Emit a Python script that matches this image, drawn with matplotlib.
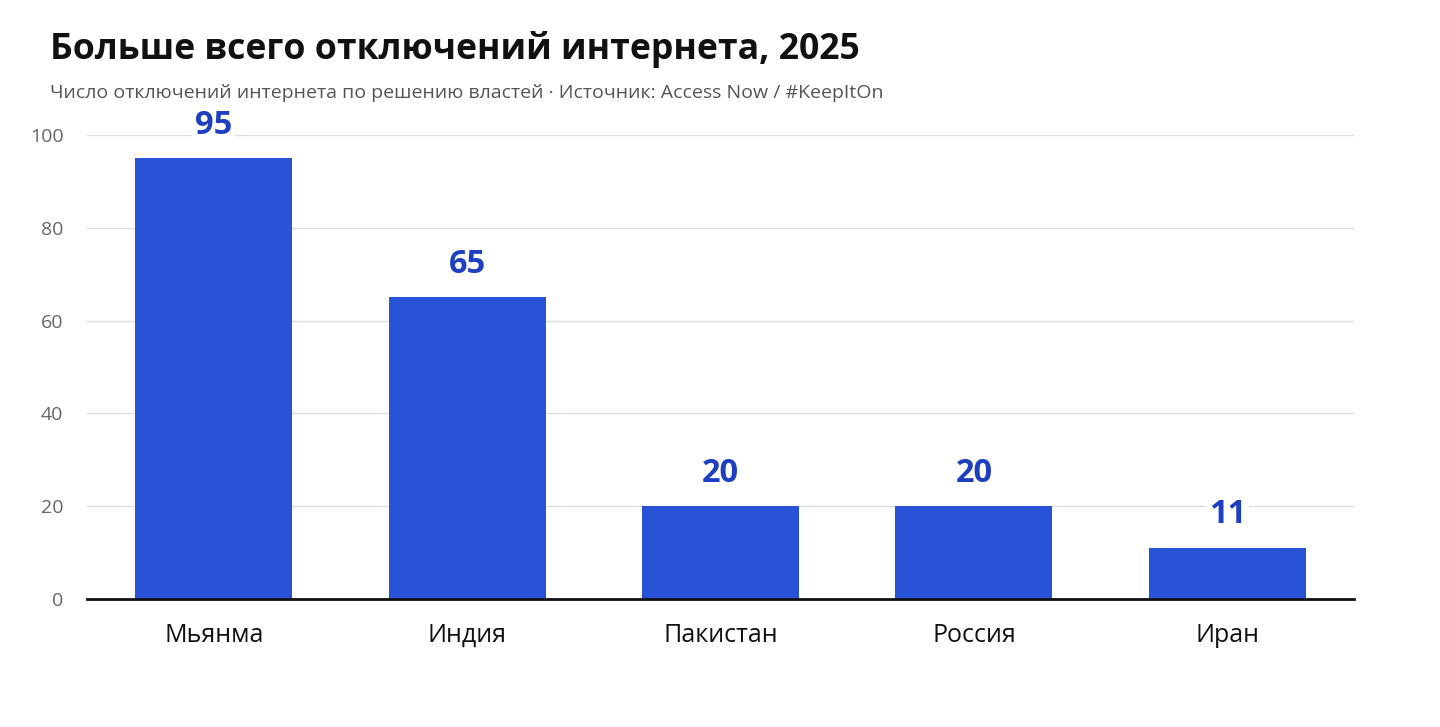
import matplotlib
matplotlib.use("Agg")
import matplotlib.pyplot as plt

countries = ["Мьянма", "Индия", "Пакистан", "Россия", "Иран"]
shutdowns = [95, 65, 20, 20, 11]
yticks = [0, 20, 40, 60, 80, 100]

title = "Больше всего отключений интернета, 2025"
subtitle = "Число отключений интернета по решению властей · Источник: Access Now / #KeepItOn"

BAR = "#2953D6"
LABEL = "#1E40C0"

plt.rcParams['font.family'] = ['Open Sans', 'DejaVu Sans']

fig = plt.figure(figsize=(14.4, 7.27), dpi=100)
ax = fig.add_axes([87/1440, 128/727, (1354-87)/1440, (599-135)/727])

x = range(len(countries))
ax.bar(x, shutdowns, width=0.62, color=BAR, zorder=3)
ax.set_xlim(-0.5, len(countries) - 0.5)
ax.set_ylim(0, 100)
ax.set_yticks(yticks)
ax.set_yticklabels([str(v) for v in yticks], fontsize=14, color="#666666")
ax.set_xticks(list(x))
ax.set_xticklabels(countries, fontsize=18, color="#111111")
ax.tick_params(axis='both', length=0)
ax.tick_params(axis='x', pad=17)
ax.tick_params(axis='y', pad=17)
ax.grid(axis='y', color='#dddddd', linewidth=1, zorder=0)
for s in ['top', 'right', 'left']:
    ax.spines[s].set_visible(False)
ax.spines['bottom'].set_color('#111111')
ax.spines['bottom'].set_linewidth(2)
ax.spines['bottom'].set_zorder(4)

for xi, v in zip(x, shutdowns):
    ax.annotate(str(v), (xi, v), xytext=(0, 12), textcoords='offset points',
                ha='center', va='bottom', fontsize=23.5, fontweight='bold', color=LABEL,
                bbox=dict(fc='white', ec='none', pad=2), zorder=5, annotation_clip=False)

fig.text(50/1440, 1 - 50/727, title, fontsize=25.7, fontweight='bold', color='#111111',
         ha='left', va='center')
fig.text(50/1440, 1 - 93/727, subtitle, fontsize=14, color='#555555',
         ha='left', va='center')

fig.savefig("out.png", dpi=100, facecolor='white')
